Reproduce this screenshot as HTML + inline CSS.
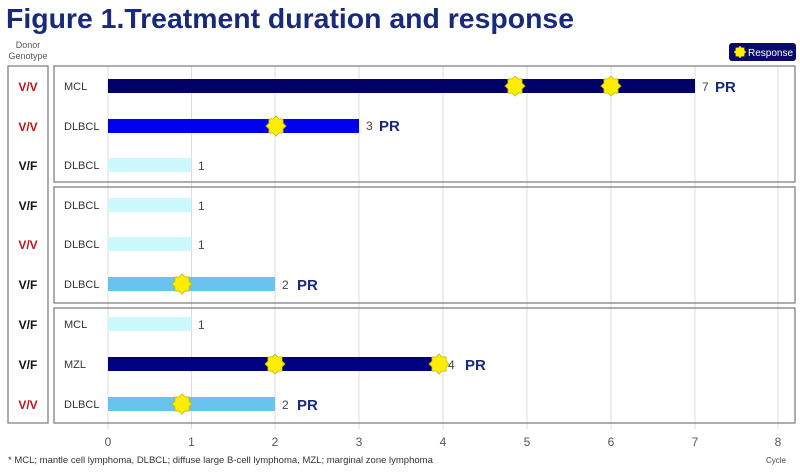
<!DOCTYPE html>
<html><head><style>
body{margin:0;width:800px;height:467px;background:#fff;overflow:hidden;font-family:"Liberation Sans",sans-serif}
</style></head><body>
<svg width="800" height="467" xmlns="http://www.w3.org/2000/svg" font-family="Liberation Sans, sans-serif">
<defs>
<polygon id="st" points="0,-10 2.9,-7 7.1,-7.1 7,-2.9 10,0 7,2.9 7.1,7.1 2.9,7 0,10 -2.9,7 -7.1,7.1 -7,2.9 -10,0 -7,-2.9 -7.1,-7.1 -2.9,-7" fill="#ffee00" stroke="#c8b400" stroke-width="0.8"/>
</defs>
<text x="6" y="28" font-size="28" font-weight="bold" fill="#1a2a7a" textLength="568" lengthAdjust="spacingAndGlyphs">Figure 1.Treatment duration and response</text>
<text x="28" y="48" font-size="9" fill="#555" text-anchor="middle">Donor</text>
<text x="28" y="59" font-size="9" fill="#555" text-anchor="middle">Genotype</text>
<rect x="729" y="43" width="67" height="18" rx="3" fill="#0a0a6a"/>
<use href="#st" transform="translate(740,52) scale(0.6)"/>
<text x="748" y="56" font-size="10" fill="#fff">Response</text>
<rect x="8" y="66" width="40" height="357" fill="none" stroke="#777" stroke-width="1.2"/>
<g stroke="#ddd" stroke-width="1">
<line x1="108" y1="66" x2="108" y2="429"/><line x1="191.5" y1="66" x2="191.5" y2="429"/><line x1="275" y1="66" x2="275" y2="429"/><line x1="359" y1="66" x2="359" y2="429"/><line x1="443" y1="66" x2="443" y2="429"/><line x1="527" y1="66" x2="527" y2="429"/><line x1="611" y1="66" x2="611" y2="429"/><line x1="695" y1="66" x2="695" y2="429"/><line x1="778" y1="66" x2="778" y2="429"/>
</g>
<g fill="none" stroke="#777" stroke-width="1.2">
<rect x="54" y="66" width="741" height="116"/>
<rect x="54" y="187" width="741" height="116"/>
<rect x="54" y="308" width="741" height="115"/>
</g>
<g font-size="12" font-weight="bold" text-anchor="middle">
<text x="28" y="91" fill="#c0141c">V/V</text>
<text x="28" y="131" fill="#c0141c">V/V</text>
<text x="28" y="170" fill="#111">V/F</text>
<text x="28" y="210" fill="#111">V/F</text>
<text x="28" y="249" fill="#c0141c">V/V</text>
<text x="28" y="289" fill="#111">V/F</text>
<text x="28" y="329" fill="#111">V/F</text>
<text x="28" y="369" fill="#111">V/F</text>
<text x="28" y="409" fill="#c0141c">V/V</text>
</g>
<g font-size="11" fill="#333">
<text x="64" y="90">MCL</text><text x="64" y="130">DLBCL</text><text x="64" y="169">DLBCL</text>
<text x="64" y="209">DLBCL</text><text x="64" y="248">DLBCL</text><text x="64" y="288">DLBCL</text>
<text x="64" y="328">MCL</text><text x="64" y="368">MZL</text><text x="64" y="408">DLBCL</text>
</g>
<rect x="108" y="79" width="587" height="14" fill="#000066"/>
<rect x="108" y="119" width="251" height="14" fill="#0000ee"/>
<rect x="108" y="158" width="83" height="14" fill="#ccf9fb"/>
<rect x="108" y="198" width="83" height="14" fill="#ccf9fb"/>
<rect x="108" y="237" width="83" height="14" fill="#ccf9fb"/>
<rect x="108" y="277" width="167" height="14" fill="#66c4ee"/>
<rect x="108" y="317" width="83" height="14" fill="#ccf9fb"/>
<rect x="108" y="357" width="331" height="14" fill="#000080"/>
<rect x="108" y="397" width="167" height="14" fill="#66c4ee"/>
<use href="#st" transform="translate(515,86)"/><use href="#st" transform="translate(611,86)"/>
<use href="#st" transform="translate(276,126)"/>
<use href="#st" transform="translate(182,284)"/>
<use href="#st" transform="translate(275,364)"/><use href="#st" transform="translate(439,364)"/>
<use href="#st" transform="translate(182,404)"/>
<g font-size="12" fill="#444">
<text x="702" y="91">7</text><text x="366" y="130">3</text><text x="198" y="170">1</text>
<text x="198" y="210">1</text><text x="198" y="249">1</text><text x="282" y="289">2</text>
<text x="198" y="329">1</text><text x="448" y="369">4</text><text x="282" y="409">2</text>
</g>
<g font-size="15" font-weight="bold" fill="#1a2a7a">
<text x="715" y="92">PR</text><text x="379" y="131">PR</text><text x="297" y="290">PR</text>
<text x="465" y="370">PR</text><text x="297" y="410">PR</text>
</g>
<g font-size="12" fill="#555" text-anchor="middle">
<text x="108" y="446">0</text><text x="191.5" y="446">1</text><text x="275" y="446">2</text><text x="359" y="446">3</text><text x="443" y="446">4</text><text x="527" y="446">5</text><text x="611" y="446">6</text><text x="695" y="446">7</text><text x="778" y="446">8</text>
</g>
<text x="8" y="463" font-size="9.5" fill="#333">* MCL; mantle cell lymphoma, DLBCL; diffuse large B-cell lymphoma, MZL; marginal zone lymphoma</text>
<text x="776" y="463" font-size="8" fill="#444" text-anchor="middle">Cycle</text>
</svg>
</body></html>
